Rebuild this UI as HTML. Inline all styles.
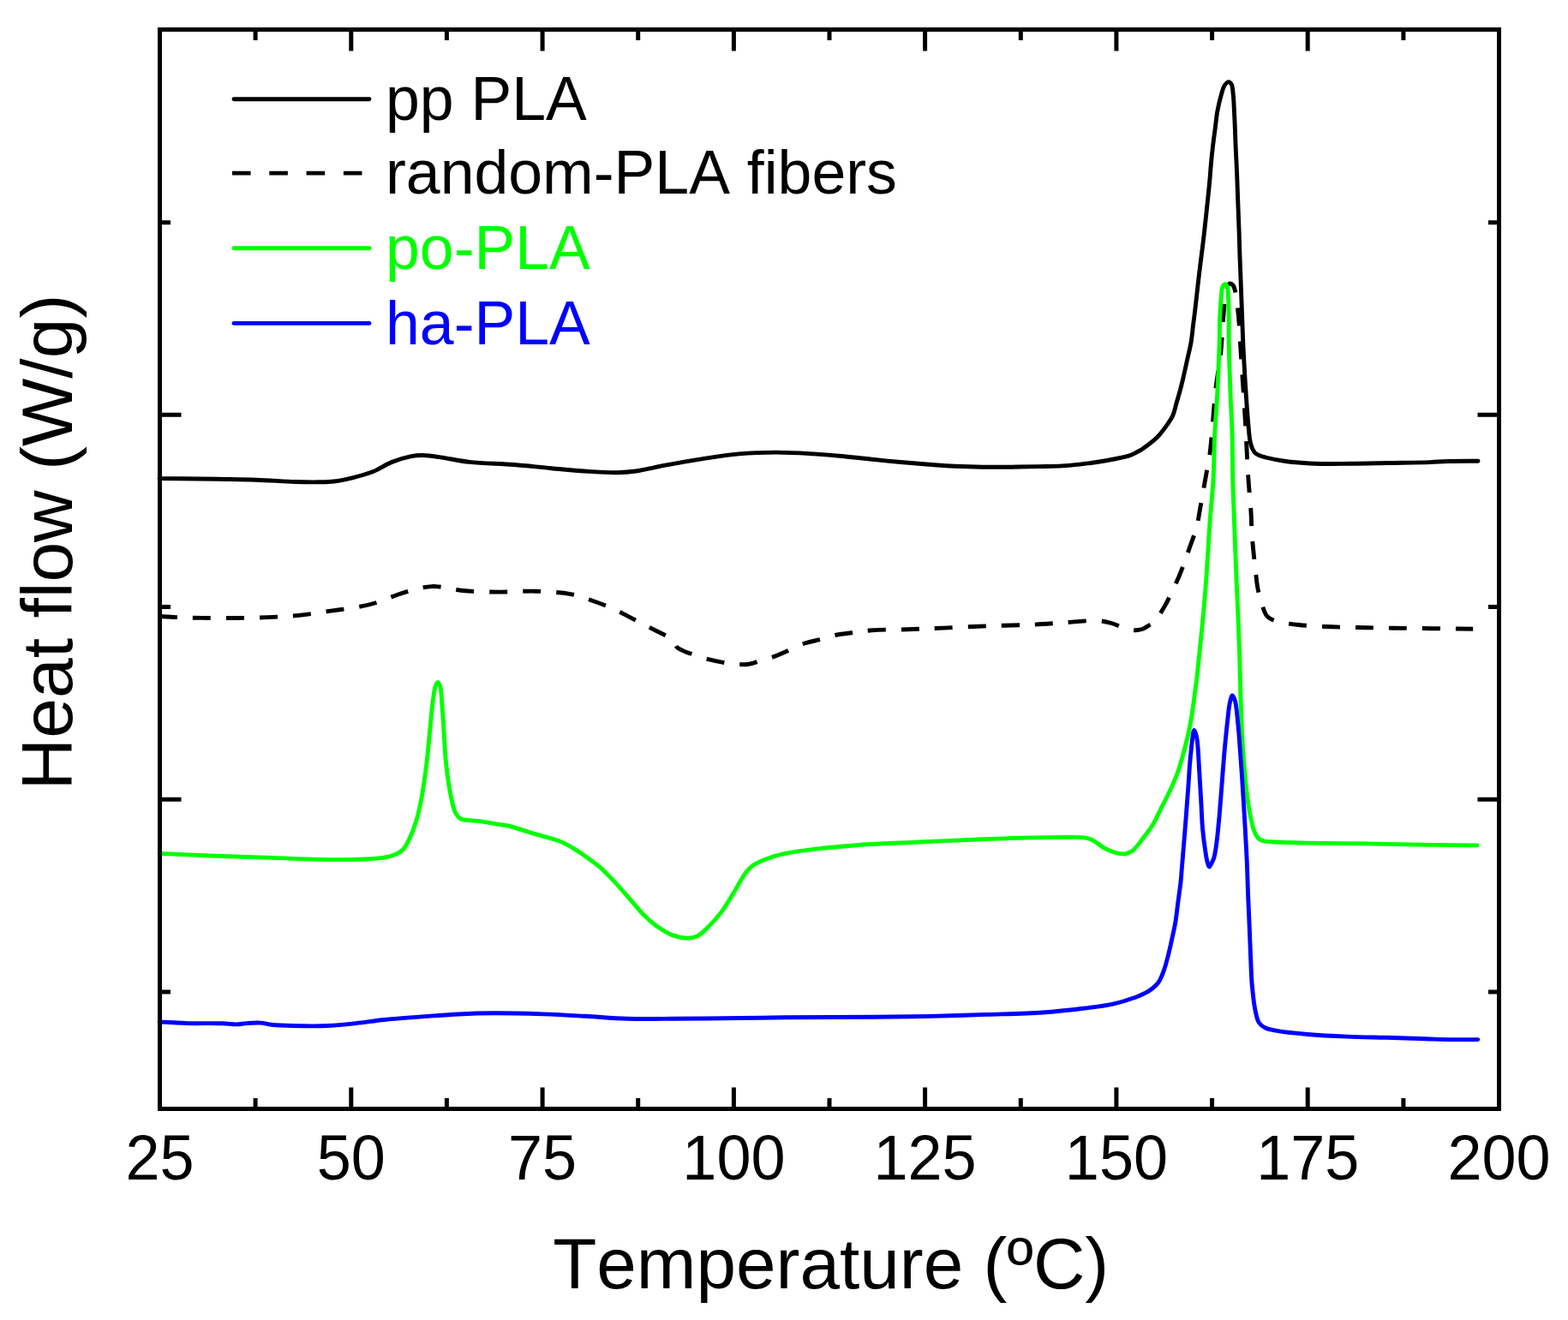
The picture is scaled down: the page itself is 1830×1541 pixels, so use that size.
<!DOCTYPE html>
<html><head><meta charset="utf-8"><title>Heat flow vs Temperature</title>
<style>html,body{margin:0;padding:0;background:#fff;}svg{display:block;} text{font-kerning:none;}</style>
</head><body>
<svg width="1830" height="1541" viewBox="0 0 1830 1541">
<rect width="1830" height="1541" fill="#ffffff"/>
<path d="M298.1 1294.5V1282.0 M298.1 34.5V47.0 M409.8 1294.5V1269.5 M409.8 34.5V59.5 M521.4 1294.5V1282.0 M521.4 34.5V47.0 M633.1 1294.5V1269.5 M633.1 34.5V59.5 M744.7 1294.5V1282.0 M744.7 34.5V47.0 M856.4 1294.5V1269.5 M856.4 34.5V59.5 M968.0 1294.5V1282.0 M968.0 34.5V47.0 M1079.6 1294.5V1269.5 M1079.6 34.5V59.5 M1191.3 1294.5V1282.0 M1191.3 34.5V47.0 M1302.9 1294.5V1269.5 M1302.9 34.5V59.5 M1414.6 1294.5V1282.0 M1414.6 34.5V47.0 M1526.2 1294.5V1269.5 M1526.2 34.5V59.5 M1637.9 1294.5V1282.0 M1637.9 34.5V47.0 M186.5 259.7H199.0 M1749.5 259.7H1737.0 M186.5 484.3H211.5 M1749.5 484.3H1724.5 M186.5 708.6H199.0 M1749.5 708.6H1737.0 M186.5 933.3H211.5 M1749.5 933.3H1724.5 M186.5 1158.0H199.0 M1749.5 1158.0H1737.0" stroke="#000" stroke-width="5" fill="none"/>
<g fill="none" stroke-width="4.9" stroke-linejoin="round" stroke-linecap="round">
<path d="M186.0 558.6 C208.6 558.8 233.6 559.0 253.9 559.3 C270.5 559.6 284.0 559.7 299.1 560.2 C314.2 560.7 331.2 562.1 344.4 562.5 C354.7 562.8 363.8 562.9 372.0 562.8 C378.5 562.7 383.4 562.8 389.6 562.0 C396.7 561.1 404.7 559.4 412.2 557.5 C419.8 555.6 427.5 553.6 434.9 550.7 C442.6 547.7 449.8 542.4 457.5 539.4 C464.9 536.5 473.5 533.9 480.1 532.6 C485.1 531.6 488.7 531.4 493.7 531.5 C499.8 531.6 506.4 532.7 514.0 533.8 C523.9 535.2 535.4 538.0 548.0 539.4 C563.5 541.1 583.4 541.2 600.0 542.5 C615.2 543.7 629.1 545.4 643.7 546.7 C658.3 548.0 673.9 549.6 687.4 550.4 C699.1 551.1 710.4 551.9 720.2 551.7 C728.2 551.5 734.1 551.1 742.1 550.0 C752.0 548.6 763.2 545.6 774.9 543.4 C788.4 540.9 804.0 538.1 818.6 535.8 C833.1 533.6 847.7 531.2 862.3 529.9 C876.8 528.6 891.4 528.1 906.0 528.1 C920.6 528.1 935.9 529.1 949.7 529.9 C962.1 530.7 973.7 531.7 985.0 532.8 C995.5 533.8 1005.1 534.9 1015.5 536.0 C1026.2 537.1 1037.4 538.3 1048.3 539.3 C1059.2 540.3 1070.1 541.2 1081.0 542.0 C1092.0 542.8 1103.0 543.8 1114.0 544.3 C1124.9 544.8 1135.8 545.1 1146.7 545.2 C1157.6 545.3 1168.5 545.3 1179.4 545.2 C1190.3 545.1 1201.5 544.8 1212.0 544.6 C1221.7 544.4 1231.5 544.4 1240.0 543.9 C1247.2 543.5 1253.3 542.8 1260.0 542.1 C1266.7 541.4 1273.3 540.5 1280.0 539.5 C1286.7 538.5 1293.4 537.4 1300.0 536.0 C1306.7 534.6 1314.6 533.2 1320.0 531.2 C1324.0 529.7 1326.7 528.1 1330.0 526.2 C1333.4 524.2 1336.7 521.7 1340.0 519.2 C1343.4 516.7 1346.8 514.3 1350.0 511.1 C1353.5 507.6 1356.9 503.2 1360.0 498.9 C1363.2 494.5 1366.6 489.9 1368.8 485.0 C1371.0 480.2 1371.7 475.0 1373.2 470.0 C1374.6 465.0 1376.2 460.0 1377.5 455.0 C1378.8 450.0 1379.9 445.4 1381.2 440.0 C1382.6 433.8 1384.1 426.7 1385.6 420.0 C1387.1 413.3 1388.8 406.7 1390.0 400.0 C1391.1 393.4 1391.7 386.7 1392.5 380.0 C1393.3 373.3 1394.1 367.8 1395.0 360.0 C1396.3 349.0 1397.9 333.3 1399.5 320.0 C1401.1 306.7 1403.0 292.4 1404.5 280.0 C1405.8 269.3 1406.8 259.0 1407.8 250.0 C1408.6 242.7 1409.2 236.7 1409.9 230.0 C1410.6 223.3 1411.3 216.7 1411.9 210.0 C1412.5 203.3 1412.9 196.7 1413.5 190.0 C1414.1 183.3 1414.8 176.7 1415.6 170.0 C1416.4 163.3 1417.3 156.7 1418.2 150.0 C1419.1 143.3 1419.6 136.6 1420.8 130.0 C1422.0 123.3 1423.9 115.5 1425.5 110.0 C1426.6 106.1 1427.4 102.5 1429.0 100.0 C1430.3 98.0 1432.1 95.7 1433.6 95.6 C1434.9 95.5 1436.4 97.0 1437.3 98.5 C1438.7 100.9 1438.7 105.4 1439.2 110.0 C1440.0 116.7 1440.2 125.8 1440.7 135.0 C1441.3 146.3 1441.7 160.9 1442.2 173.0 C1442.7 184.1 1443.3 194.4 1443.7 205.0 C1444.1 215.4 1444.4 225.7 1444.8 236.0 C1445.2 246.3 1445.6 256.5 1446.0 267.0 C1446.4 277.8 1446.7 290.4 1447.0 300.0 C1447.3 307.5 1447.5 312.2 1447.8 320.0 C1448.2 331.0 1448.8 346.6 1449.3 360.0 C1449.8 373.6 1450.2 387.1 1450.8 401.0 C1451.5 415.4 1452.4 431.6 1453.2 445.0 C1453.9 456.2 1454.6 466.7 1455.3 476.0 C1455.9 483.7 1456.4 490.3 1457.0 497.0 C1457.6 503.2 1458.0 510.1 1459.0 515.0 C1459.7 518.4 1460.4 521.0 1461.5 523.5 C1462.5 525.6 1463.5 527.6 1465.0 529.0 C1466.4 530.3 1468.1 531.0 1470.0 531.8 C1472.1 532.7 1474.0 533.2 1477.0 534.0 C1482.5 535.4 1491.8 537.3 1500.3 538.5 C1510.5 539.9 1522.1 540.7 1534.0 541.2 C1547.2 541.7 1561.9 541.4 1576.0 541.3 C1590.2 541.2 1604.1 540.8 1619.0 540.5 C1635.0 540.2 1655.9 540.1 1669.0 539.6 C1677.5 539.3 1682.1 538.7 1690.0 538.5 C1700.2 538.2 1713.3 538.3 1725.0 538.2" stroke="#000000"/>
<path d="M186.0 719.5 C192.7 719.9 198.7 720.3 206.0 720.6 C215.0 721.0 225.3 721.2 236.0 721.4 C248.1 721.6 262.1 721.6 275.0 721.5 C287.7 721.4 300.5 721.1 313.0 720.6 C325.2 720.1 337.1 719.6 349.0 718.4 C360.9 717.2 372.6 715.1 384.4 713.4 C396.4 711.7 410.2 710.2 420.4 708.2 C428.0 706.7 432.9 705.5 440.1 703.3 C449.4 700.4 460.6 694.9 471.2 691.8 C481.9 688.7 492.8 685.1 504.0 684.6 C515.7 684.1 527.5 688.4 540.1 689.5 C553.7 690.7 568.5 691.0 582.7 691.1 C596.9 691.2 611.4 689.8 625.3 690.2 C638.7 690.6 654.5 691.7 664.7 693.4 C671.4 694.5 674.7 695.7 681.0 697.7 C690.0 700.6 703.0 705.2 713.4 709.7 C723.5 714.1 732.8 719.5 742.6 724.5 C752.5 729.6 765.7 736.3 772.6 739.8 C776.3 741.6 778.7 742.3 781.0 744.0 C783.0 745.5 784.5 747.1 786.0 749.0 C787.5 750.9 788.2 753.7 790.0 755.5 C791.8 757.3 794.5 758.4 797.0 759.6 C799.5 760.8 801.6 761.5 805.0 762.7 C810.6 764.7 819.6 767.8 827.6 769.8 C836.5 772.0 847.8 774.4 856.3 775.2 C863.0 775.8 868.7 776.0 874.3 775.2 C879.3 774.5 883.4 772.5 888.2 771.0 C893.4 769.4 899.5 767.9 904.6 766.1 C909.3 764.4 912.8 762.7 917.7 760.6 C924.2 757.8 932.9 753.2 940.1 750.8 C946.3 748.7 952.0 748.0 958.1 746.4 C964.4 744.7 971.1 742.3 977.3 741.0 C983.1 739.8 988.1 739.6 994.2 738.8 C1001.4 737.9 1008.7 736.5 1017.7 735.8 C1029.6 734.9 1045.3 735.2 1059.2 734.8 C1073.1 734.3 1086.3 733.7 1101.0 733.1 C1117.5 732.4 1135.9 731.4 1153.4 730.8 C1170.9 730.1 1189.7 730.0 1205.9 729.2 C1220.0 728.5 1232.4 727.4 1245.2 726.6 C1257.5 725.9 1271.8 724.0 1281.3 724.6 C1287.6 725.0 1292.0 726.1 1297.0 727.5 C1301.8 728.8 1306.2 731.1 1310.8 732.5 C1315.2 733.8 1320.0 735.5 1324.0 735.7 C1327.3 735.9 1330.2 735.4 1333.0 734.5 C1335.6 733.6 1338.0 731.9 1340.3 730.5 C1342.6 729.1 1344.5 728.5 1346.8 726.2 C1350.7 722.4 1355.9 713.6 1359.4 707.6 C1362.5 702.4 1364.4 697.8 1367.0 692.4 C1370.0 686.2 1373.6 678.5 1376.3 672.2 C1378.6 666.8 1380.3 662.2 1382.2 657.0 C1384.2 651.5 1386.0 646.3 1388.1 640.1 C1390.7 632.7 1394.4 623.7 1396.5 615.6 C1398.5 607.9 1399.5 600.0 1400.8 592.8 C1402.0 586.3 1402.9 581.0 1404.1 574.3 C1405.5 566.3 1407.4 555.7 1408.8 548.0 C1409.9 542.0 1410.9 538.0 1411.7 532.1 C1412.8 524.7 1413.4 516.7 1414.3 506.8 C1415.6 492.7 1416.9 472.1 1418.7 455.6 C1420.4 440.0 1423.3 425.4 1424.9 410.4 C1426.4 395.8 1426.7 379.8 1428.0 366.8 C1429.0 356.2 1429.6 344.2 1431.5 338.0 C1432.5 334.8 1433.6 331.5 1435.1 331.0 C1436.2 330.6 1438.0 331.9 1439.0 333.0 C1440.2 334.3 1440.6 336.0 1441.3 338.7 C1442.8 344.5 1444.1 356.2 1445.2 366.8 C1446.6 380.4 1447.3 397.9 1448.3 413.5 C1449.3 429.1 1450.4 445.4 1451.4 460.3 C1452.3 473.9 1453.1 487.0 1453.8 499.2 C1454.4 510.1 1454.8 520.2 1455.3 530.0 C1455.8 539.0 1456.2 547.5 1456.7 555.7 C1457.2 563.3 1457.8 570.3 1458.4 577.6 C1459.0 584.9 1459.7 592.2 1460.1 599.5 C1460.5 606.8 1460.6 614.3 1461.0 621.5 C1461.4 628.4 1462.0 634.7 1462.7 641.7 C1463.4 649.3 1464.3 657.7 1465.2 665.3 C1466.0 672.3 1466.5 679.2 1467.7 685.6 C1468.8 691.5 1470.1 696.9 1471.9 702.5 C1473.7 708.2 1475.6 715.6 1478.7 719.3 C1481.0 722.0 1484.0 723.2 1487.0 724.5 C1490.1 725.8 1493.3 726.2 1497.2 726.9 C1502.5 727.9 1508.8 728.8 1515.8 729.5 C1524.7 730.4 1535.4 731.0 1546.2 731.5 C1558.3 732.1 1571.9 732.2 1585.0 732.5 C1598.4 732.8 1611.6 733.0 1625.5 733.2 C1640.2 733.4 1655.6 733.5 1671.0 733.7 C1686.8 733.9 1703.1 734.0 1719.1 734.2" stroke="#000000" stroke-dasharray="21 18" stroke-linecap="butt"/>
<path d="M186.0 996.4 C207.9 997.3 229.7 998.4 251.6 999.2 C273.4 1000.0 296.3 1000.7 317.1 1001.4 C336.2 1002.1 353.6 1003.1 371.8 1003.4 C390.0 1003.7 412.3 1003.6 426.4 1003.0 C435.3 1002.6 442.0 1002.3 448.3 1001.2 C453.3 1000.3 457.6 999.2 461.4 997.5 C464.7 996.0 467.6 994.7 470.2 992.0 C473.6 988.4 476.4 982.1 478.9 976.7 C481.5 971.2 483.6 965.4 485.5 959.2 C487.6 952.4 489.3 945.0 490.9 937.4 C492.6 929.1 494.0 919.9 495.3 911.1 C496.6 902.4 497.6 894.1 498.6 884.9 C499.8 874.6 500.7 863.0 501.8 852.1 C502.9 841.2 503.8 828.7 505.1 819.3 C506.1 812.1 506.9 804.4 508.4 800.5 C509.2 798.5 510.1 796.4 511.0 796.4 C512.0 796.4 513.1 799.4 513.9 801.9 C515.3 806.7 515.3 815.7 516.0 823.7 C516.8 833.5 517.5 845.6 518.2 856.5 C518.9 867.4 519.4 879.0 520.4 889.3 C521.3 898.5 522.5 907.7 523.7 915.5 C524.7 921.9 525.7 927.4 527.0 933.0 C528.2 938.3 529.1 944.2 531.3 948.3 C533.0 951.5 534.7 954.3 537.9 956.0 C542.4 958.4 550.4 957.4 557.6 958.4 C566.2 959.6 579.8 962.0 586.0 963.0 C589.0 963.5 589.7 963.3 592.8 964.0 C599.7 965.5 615.3 970.8 625.6 973.9 C634.8 976.6 644.1 978.5 651.8 981.5 C658.4 984.1 664.0 987.2 669.3 990.3 C674.1 993.1 677.8 995.7 682.4 999.0 C687.9 1002.9 694.2 1007.2 699.9 1012.1 C705.9 1017.3 711.7 1023.5 717.4 1029.6 C723.3 1035.9 729.1 1042.7 734.9 1049.3 C740.7 1055.9 746.5 1063.3 752.3 1069.0 C757.4 1074.0 762.2 1078.3 767.7 1082.1 C773.2 1085.9 779.1 1089.7 785.1 1091.9 C790.8 1094.0 797.4 1095.2 802.6 1095.2 C806.7 1095.2 810.0 1094.7 813.6 1093.0 C818.1 1090.9 822.3 1086.4 826.7 1082.1 C831.8 1077.1 837.1 1071.1 842.0 1064.6 C847.4 1057.4 852.4 1048.4 857.3 1040.5 C861.9 1033.1 866.1 1024.1 870.4 1018.7 C873.4 1014.9 875.3 1012.6 879.1 1010.0 C884.1 1006.5 892.0 1003.6 898.8 1001.2 C905.8 998.8 912.3 997.3 920.7 995.7 C931.8 993.5 946.9 991.8 960.0 990.3 C973.1 988.8 984.1 987.8 999.2 986.7 C1019.9 985.2 1048.4 984.2 1073.0 983.0 C1097.6 981.9 1124.6 980.7 1146.7 979.8 C1164.7 979.1 1179.5 978.5 1195.9 978.1 C1212.3 977.7 1231.8 977.3 1245.0 977.4 C1253.9 977.5 1261.4 976.9 1267.2 978.1 C1271.2 978.9 1273.7 980.0 1277.0 981.8 C1281.0 983.9 1284.9 988.0 1289.3 990.4 C1293.9 992.8 1299.6 995.1 1304.1 996.1 C1307.6 996.9 1310.9 997.1 1313.9 996.6 C1316.6 996.1 1318.8 995.4 1321.3 993.6 C1325.2 990.8 1329.6 984.4 1333.6 979.3 C1337.8 973.9 1342.4 967.9 1345.9 962.1 C1349.1 956.7 1351.0 951.8 1354.0 945.8 C1357.7 938.4 1362.7 929.1 1366.3 921.2 C1369.6 914.0 1372.4 907.5 1375.0 900.2 C1377.7 892.4 1380.0 883.6 1382.1 875.7 C1384.0 868.4 1385.7 861.9 1387.3 854.6 C1389.0 846.8 1390.4 838.4 1391.7 830.1 C1393.0 821.5 1394.2 811.2 1395.2 803.8 C1395.9 798.5 1396.4 795.5 1397.0 790.0 C1397.9 782.0 1399.0 770.9 1400.1 760.3 C1401.3 748.2 1402.8 734.9 1404.0 721.3 C1405.4 706.4 1406.7 691.3 1407.9 674.6 C1409.3 655.3 1410.4 632.2 1411.8 612.3 C1413.1 594.1 1415.0 577.7 1416.0 560.0 C1417.0 541.7 1417.0 521.3 1417.9 504.0 C1418.6 489.0 1419.8 477.4 1420.6 462.0 C1421.6 443.3 1422.7 416.2 1423.2 400.0 C1423.5 389.6 1423.3 382.9 1423.6 374.3 C1423.9 365.6 1424.5 355.2 1425.2 348.0 C1425.7 342.9 1425.6 337.8 1426.8 335.0 C1427.5 333.4 1428.6 331.7 1429.6 331.6 C1430.5 331.5 1431.6 332.7 1432.2 334.0 C1433.3 336.2 1433.1 340.5 1433.4 345.0 C1433.9 352.0 1434.1 362.9 1434.2 372.0 C1434.3 381.2 1434.0 388.8 1434.2 400.0 C1434.5 416.6 1435.4 443.3 1436.1 462.0 C1436.7 477.4 1437.6 489.0 1438.0 504.0 C1438.5 521.3 1438.4 541.7 1438.8 560.0 C1439.2 577.7 1439.9 593.8 1440.6 612.0 C1441.3 632.0 1442.2 655.6 1443.0 675.0 C1443.7 691.5 1444.4 706.3 1445.0 721.0 C1445.6 734.5 1446.1 747.9 1446.5 760.0 C1446.8 770.7 1447.0 778.3 1447.3 790.0 C1447.8 806.6 1448.3 831.1 1449.2 850.0 C1450.0 866.9 1451.1 883.1 1452.4 898.0 C1453.5 911.1 1454.7 924.2 1456.3 935.0 C1457.5 943.6 1458.9 951.3 1460.5 958.0 C1461.7 963.3 1462.7 968.2 1464.5 972.0 C1465.9 975.0 1467.5 977.9 1469.5 979.5 C1471.1 980.8 1472.9 981.3 1475.0 981.8 C1477.7 982.5 1480.3 982.5 1484.6 982.8 C1493.5 983.4 1510.3 983.8 1525.6 984.1 C1544.9 984.5 1569.3 984.6 1591.1 984.9 C1613.0 985.2 1634.7 985.8 1656.7 986.1 C1679.0 986.4 1701.6 986.6 1724.0 986.9" stroke="#00ff00"/>
<path d="M186.0 1193.0 C191.5 1193.3 196.9 1193.5 202.4 1193.8 C207.9 1194.1 212.1 1194.4 218.8 1194.6 C229.4 1194.9 249.2 1194.4 259.8 1194.8 C266.5 1195.0 271.2 1196.0 276.2 1195.9 C280.3 1195.8 283.4 1194.9 287.6 1194.6 C292.6 1194.2 298.9 1193.8 304.0 1194.1 C308.6 1194.4 312.0 1195.7 317.1 1196.2 C324.0 1196.9 332.5 1197.3 341.7 1197.5 C353.6 1197.8 369.8 1198.1 382.7 1197.5 C394.3 1197.0 404.6 1195.8 415.5 1194.6 C426.4 1193.4 437.0 1191.7 448.3 1190.5 C460.4 1189.2 472.6 1188.4 486.0 1187.4 C501.3 1186.2 519.5 1184.8 535.2 1184.0 C549.5 1183.3 561.4 1182.9 576.2 1182.8 C593.7 1182.7 615.1 1183.3 633.5 1183.9 C650.5 1184.5 666.3 1185.4 682.7 1186.3 C699.1 1187.2 715.1 1188.7 731.9 1189.2 C749.5 1189.7 766.3 1189.4 786.0 1189.3 C809.8 1189.2 841.1 1188.8 864.7 1188.5 C883.9 1188.3 896.7 1188.0 917.1 1187.8 C945.7 1187.5 989.9 1187.6 1020.4 1187.3 C1044.7 1187.1 1064.1 1186.9 1086.0 1186.4 C1107.9 1185.9 1129.7 1185.1 1151.6 1184.4 C1173.4 1183.7 1196.8 1183.4 1217.1 1182.0 C1234.7 1180.8 1251.6 1178.8 1266.3 1177.0 C1278.4 1175.5 1289.0 1174.3 1299.1 1172.1 C1308.0 1170.1 1316.4 1167.5 1323.7 1164.8 C1329.8 1162.5 1335.3 1160.5 1340.1 1157.4 C1344.5 1154.6 1348.6 1151.4 1351.6 1147.5 C1354.5 1143.7 1356.1 1138.9 1357.9 1134.2 C1359.8 1129.1 1361.2 1123.8 1362.7 1118.0 C1364.4 1111.5 1366.1 1103.8 1367.6 1096.9 C1369.1 1090.3 1370.5 1084.3 1371.7 1077.4 C1373.0 1069.7 1373.8 1061.1 1374.9 1053.0 C1376.0 1044.9 1377.3 1035.8 1378.1 1028.7 C1378.7 1023.2 1378.8 1019.7 1379.3 1014.0 C1380.0 1005.9 1380.9 995.2 1381.7 984.7 C1382.7 972.7 1383.9 958.1 1384.8 945.8 C1385.6 934.8 1386.4 924.3 1387.1 914.6 C1387.7 906.2 1388.0 899.0 1388.7 891.2 C1389.3 883.4 1390.3 874.4 1391.0 867.9 C1391.5 863.3 1391.9 858.8 1392.5 856.0 C1392.8 854.5 1393.1 852.5 1393.6 852.5 C1394.0 852.5 1394.7 854.2 1395.2 855.5 C1396.0 857.7 1396.7 860.7 1397.3 864.8 C1398.4 872.6 1398.9 887.2 1399.6 899.0 C1400.4 911.6 1401.2 926.0 1401.9 938.0 C1402.5 948.4 1402.7 957.7 1403.5 967.0 C1404.3 975.8 1405.5 985.1 1406.6 992.5 C1407.5 998.3 1408.4 1004.6 1409.5 1008.0 C1410.1 1009.8 1410.6 1012.0 1411.3 1012.0 C1412.0 1012.0 1412.7 1009.9 1413.5 1008.5 C1414.5 1006.7 1415.8 1004.6 1416.7 1001.8 C1418.1 997.5 1418.9 991.3 1419.8 984.7 C1421.0 975.9 1422.0 964.6 1423.0 953.6 C1424.1 941.3 1425.1 927.6 1426.1 914.6 C1427.1 901.6 1428.1 887.9 1429.2 875.7 C1430.2 864.7 1431.2 854.3 1432.3 844.5 C1433.3 835.8 1434.0 825.9 1435.4 820.0 C1436.2 816.5 1437.2 812.1 1438.3 812.0 C1439.3 811.9 1440.6 815.5 1441.5 818.5 C1443.2 824.2 1443.8 834.9 1444.8 844.5 C1446.0 856.2 1446.9 869.9 1447.9 883.5 C1449.0 898.4 1450.1 915.3 1451.0 930.2 C1451.9 943.8 1452.6 956.4 1453.3 969.1 C1454.0 981.3 1454.7 992.7 1455.2 1005.0 C1455.8 1017.9 1456.1 1031.7 1456.6 1044.8 C1457.1 1057.4 1457.7 1069.7 1458.2 1082.1 C1458.7 1094.5 1459.2 1107.7 1459.7 1119.4 C1460.2 1129.9 1460.3 1139.4 1461.2 1149.3 C1462.1 1159.3 1463.2 1170.9 1464.9 1179.1 C1466.1 1185.0 1467.0 1190.4 1469.4 1194.0 C1471.3 1196.8 1473.8 1198.5 1476.9 1200.0 C1480.9 1202.0 1485.8 1202.6 1491.8 1203.7 C1500.8 1205.3 1513.7 1206.5 1525.9 1207.5 C1540.1 1208.7 1556.5 1209.5 1571.8 1210.1 C1587.1 1210.7 1602.4 1210.9 1617.7 1211.3 C1633.0 1211.8 1649.8 1212.4 1663.6 1212.8 C1674.8 1213.1 1684.0 1213.5 1694.2 1213.6 C1704.4 1213.7 1714.6 1213.6 1724.8 1213.6" stroke="#0000ff"/>
</g>
<rect x="186.5" y="34.5" width="1563.0" height="1260.0" fill="none" stroke="#000" stroke-width="5" stroke-linejoin="miter"/>
<g stroke-width="4.9" fill="none" stroke-linecap="round">
<path d="M273 115.8H431" stroke="#000"/>
<path d="M271 202.1H423" stroke="#000" stroke-dasharray="21.6 21.7" stroke-linecap="butt"/>
<path d="M273 289.7H431" stroke="#00ff00"/>
<path d="M273 377.4H431" stroke="#0000ff"/>
</g>
<g font-family="'Liberation Sans', Arial, Helvetica, sans-serif" font-size="71.6">
<text x="450" y="140.1" fill="#000">pp PLA</text>
<text x="450" y="226.4" fill="#000">random-PLA fibers</text>
<text x="450" y="314.0" fill="#00ff00">po-PLA</text>
<text x="450" y="401.7" fill="#0000ff">ha-PLA</text>
</g>
<g font-family="'Liberation Sans', Arial, Helvetica, sans-serif" font-size="72" text-anchor="middle" fill="#000">
<text transform="translate(186.5 1377) scale(1 1.03)">25</text>
<text transform="translate(409.8 1377) scale(1 1.03)">50</text>
<text transform="translate(633.1 1377) scale(1 1.03)">75</text>
<text transform="translate(856.4 1377) scale(1 1.03)">100</text>
<text transform="translate(1079.6 1377) scale(1 1.03)">125</text>
<text transform="translate(1302.9 1377) scale(1 1.03)">150</text>
<text transform="translate(1526.2 1377) scale(1 1.03)">175</text>
<text transform="translate(1749.5 1377) scale(1 1.03)">200</text>
</g>
<text x="969.7" y="1503.5" font-family="'Liberation Sans', Arial, Helvetica, sans-serif" font-size="83.7" text-anchor="middle" fill="#000">Temperature (&#186;C)</text>
<text transform="translate(83.8 633) rotate(-90)" font-family="'Liberation Sans', Arial, Helvetica, sans-serif" font-size="84" text-anchor="middle" fill="#000">Heat flow (W/g)</text>
</svg>
</body></html>
